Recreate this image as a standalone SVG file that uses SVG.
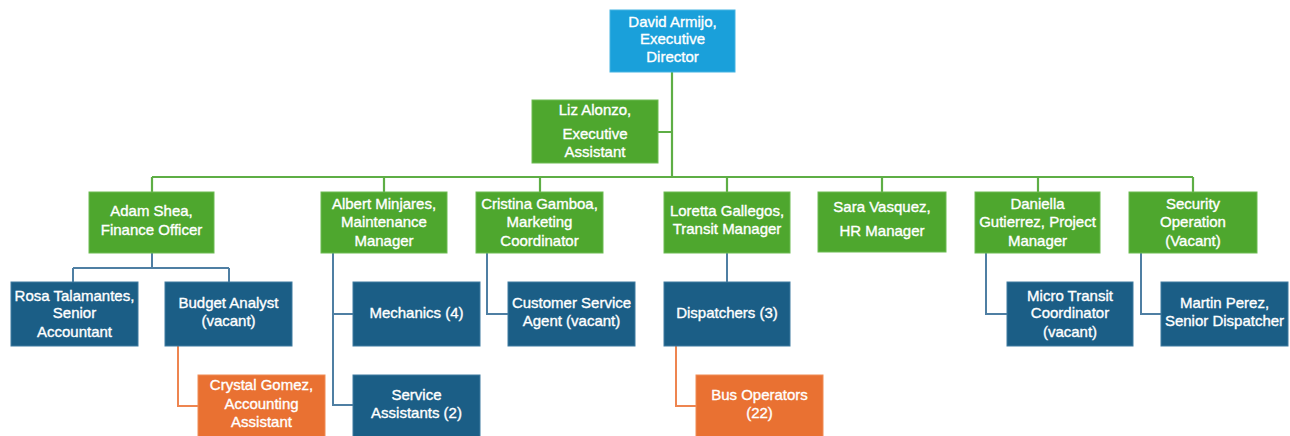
<svg xmlns="http://www.w3.org/2000/svg" width="1290" height="436" viewBox="0 0 1290 436">
<style>
.g{fill:#4EA72E;stroke:#6CBB52;stroke-width:1}
.b{fill:#1B5E86;stroke:#3F7BA0;stroke-width:1}
.o{fill:#E97132;stroke:#F08C55;stroke-width:1}
.c{fill:#1AA0DA;stroke:#45B3E2;stroke-width:1}
text{font-family:"Liberation Sans",Arial,sans-serif;font-size:15px;fill:#FFFFFF;stroke:#FFFFFF;stroke-width:0.35;text-anchor:middle}
.lg{fill:none;stroke:#5EAE45;stroke-width:2.2}
.lb{fill:none;stroke:#4F7FA3;stroke-width:2}
.lo{fill:none;stroke:#EE8550;stroke-width:2}
</style>
<rect width="1290" height="436" fill="#FFFFFF"/>
<g id="connectors">
<path class="lg" d="M672,72V177M658,132H672M152,177H1193M152,177V192M384,177V192M540,177V192M727,177V192M882,177V192M1038,177V192M1193,177V192"/>
<path class="lb" d="M152,253V268M73,268H229M73,268V282M229,268V282"/>
<path class="lb" d="M333,253V405H353M333,314H353"/>
<path class="lb" d="M487,253V314H508"/>
<path class="lb" d="M727,253V282"/>
<path class="lb" d="M986,253V314H1007"/>
<path class="lb" d="M1141,253V314H1161"/>
<path class="lo" d="M178,346V406H198"/>
<path class="lo" d="M676,346V406H696"/>
</g>
<g id="david"><rect class="c" x="610" y="10" width="125" height="62"/><text x="672.5" y="27">David Armijo,</text><text x="672.5" y="44">Executive</text><text x="672.5" y="62">Director</text></g>
<g id="liz"><rect class="g" x="532" y="100" width="126" height="63"/><text x="595" y="115">Liz Alonzo,</text><text x="595" y="139">Executive</text><text x="595" y="157">Assistant</text></g>
<g id="adam"><rect class="g" x="89" y="192" width="125" height="61"/><text x="151.5" y="216">Adam Shea,</text><text x="151.5" y="235">Finance Officer</text></g>
<g id="albert"><rect class="g" x="321" y="192" width="126" height="61"/><text x="384" y="209">Albert Minjares,</text><text x="384" y="227">Maintenance</text><text x="384" y="246">Manager</text></g>
<g id="cristina"><rect class="g" x="476" y="192" width="127" height="61"/><text x="539.5" y="209">Cristina Gamboa,</text><text x="539.5" y="227">Marketing</text><text x="539.5" y="246">Coordinator</text></g>
<g id="loretta"><rect class="g" x="664" y="192" width="126" height="61"/><text x="727" y="216">Loretta Gallegos,</text><text x="727" y="234">Transit Manager</text></g>
<g id="sara"><rect class="g" x="818" y="192" width="128" height="60"/><text x="882" y="212">Sara Vasquez,</text><text x="882" y="236">HR Manager</text></g>
<g id="daniella"><rect class="g" x="975" y="192" width="125" height="61"/><text x="1037.5" y="209">Daniella</text><text x="1037.5" y="227">Gutierrez, Project</text><text x="1037.5" y="246">Manager</text></g>
<g id="security"><rect class="g" x="1129" y="192" width="128" height="61"/><text x="1193" y="209">Security</text><text x="1193" y="227">Operation</text><text x="1193" y="246">(Vacant)</text></g>
<g id="rosa"><rect class="b" x="11" y="282" width="127" height="64"/><text x="74.5" y="301">Rosa Talamantes,</text><text x="74.5" y="318">Senior</text><text x="74.5" y="337">Accountant</text></g>
<g id="budget"><rect class="b" x="165" y="282" width="127" height="64"/><text x="228.5" y="308">Budget Analyst</text><text x="228.5" y="326">(vacant)</text></g>
<g id="mechanics"><rect class="b" x="353" y="282" width="127" height="64"/><text x="416.5" y="318">Mechanics (4)</text></g>
<g id="customer"><rect class="b" x="508" y="282" width="127" height="64"/><text x="571.5" y="308">Customer Service</text><text x="571.5" y="326">Agent (vacant)</text></g>
<g id="dispatchers"><rect class="b" x="664" y="282" width="126" height="64"/><text x="727" y="318">Dispatchers (3)</text></g>
<g id="micro"><rect class="b" x="1007" y="282" width="126" height="64"/><text x="1070" y="301">Micro Transit</text><text x="1070" y="318">Coordinator</text><text x="1070" y="337">(vacant)</text></g>
<g id="martin"><rect class="b" x="1161" y="282" width="127" height="64"/><text x="1224.5" y="308">Martin Perez,</text><text x="1224.5" y="326">Senior Dispatcher</text></g>
<g id="crystal"><rect class="o" x="198" y="375" width="127" height="64"/><text x="261.5" y="390">Crystal Gomez,</text><text x="261.5" y="409">Accounting</text><text x="261.5" y="427">Assistant</text></g>
<g id="service"><rect class="b" x="353" y="375" width="127" height="64"/><text x="416.5" y="400">Service</text><text x="416.5" y="418">Assistants (2)</text></g>
<g id="bus"><rect class="o" x="696" y="375" width="127" height="64"/><text x="759.5" y="400">Bus Operators</text><text x="759.5" y="418">(22)</text></g>
</svg>
